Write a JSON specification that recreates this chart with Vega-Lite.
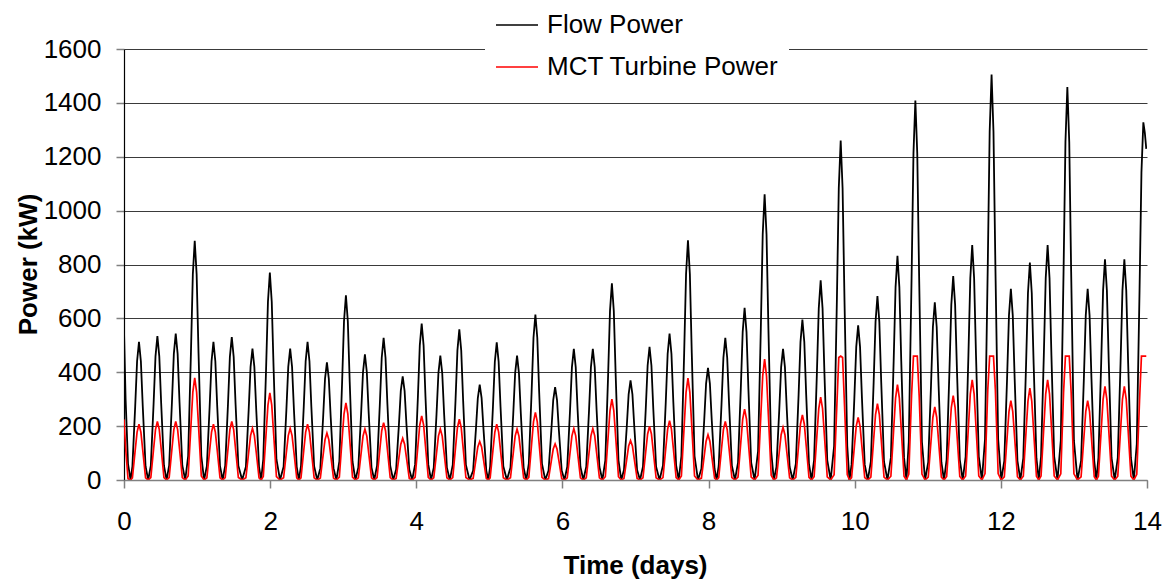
{
  "$schema": "https://vega.github.io/schema/vega-lite/v6.json",
  "width": 1023,
  "height": 431,
  "autosize": {"type": "none"},
  "padding": {"left": 124, "top": 49, "right": 21, "bottom": 103},
  "background": "white",
  "config": {"view": {"stroke": null}, "font": "Liberation Sans"},
  "data": {"values": [
    {"t":0,"f":555,"m":225},{"t":0.022,"f":300,"m":120},{"t":0.055,"f":60,"m":5},{"t":0.09,"f":0,"m":0},
    {"t":0.115,"f":51,"m":8},{"t":0.153,"f":272,"m":110},{"t":0.179,"f":441,"m":178},{"t":0.205,"f":513,"m":207},{"t":0.231,"f":441,"m":178},{"t":0.257,"f":272,"m":110},{"t":0.295,"f":51,"m":8},{"t":0.331,"f":0,"m":0},
    {"t":0.367,"f":53,"m":9},{"t":0.405,"f":283,"m":115},{"t":0.431,"f":459,"m":187},{"t":0.457,"f":534,"m":217},{"t":0.483,"f":459,"m":187},{"t":0.509,"f":283,"m":115},{"t":0.547,"f":53,"m":9},{"t":0.583,"f":0,"m":0},
    {"t":0.618,"f":54,"m":9},{"t":0.656,"f":288,"m":115},{"t":0.682,"f":468,"m":187},{"t":0.708,"f":544,"m":217},{"t":0.734,"f":468,"m":187},{"t":0.76,"f":288,"m":115},{"t":0.798,"f":54,"m":9},{"t":0.838,"f":0,"m":0},
    {"t":0.878,"f":89,"m":15},{"t":0.916,"f":471,"m":201},{"t":0.942,"f":764,"m":326},{"t":0.968,"f":888,"m":379},{"t":0.994,"f":764,"m":326},{"t":1.02,"f":471,"m":201},{"t":1.058,"f":89,"m":15},{"t":1.096,"f":0,"m":0},
    {"t":1.134,"f":51,"m":8},{"t":1.172,"f":272,"m":110},{"t":1.198,"f":441,"m":178},{"t":1.224,"f":513,"m":207},{"t":1.25,"f":441,"m":178},{"t":1.276,"f":272,"m":110},{"t":1.314,"f":51,"m":8},{"t":1.35,"f":0,"m":0},
    {"t":1.385,"f":53,"m":9},{"t":1.423,"f":281,"m":115},{"t":1.449,"f":457,"m":187},{"t":1.475,"f":531,"m":217},{"t":1.501,"f":457,"m":187},{"t":1.527,"f":281,"m":115},{"t":1.565,"f":53,"m":9},{"t":1.617,"f":0,"m":0},
    {"t":1.668,"f":49,"m":8},{"t":1.706,"f":259,"m":102},{"t":1.732,"f":420,"m":165},{"t":1.758,"f":488,"m":192},{"t":1.784,"f":420,"m":165},{"t":1.81,"f":259,"m":102},{"t":1.848,"f":49,"m":8},{"t":1.877,"f":0,"m":0},
    {"t":1.906,"f":77,"m":13},{"t":1.944,"f":408,"m":171},{"t":1.97,"f":662,"m":278},{"t":1.996,"f":770,"m":323},{"t":2.022,"f":662,"m":278},{"t":2.048,"f":408,"m":171},{"t":2.086,"f":77,"m":13},{"t":2.135,"f":0,"m":0},
    {"t":2.184,"f":49,"m":8},{"t":2.222,"f":259,"m":102},{"t":2.248,"f":420,"m":165},{"t":2.274,"f":488,"m":192},{"t":2.3,"f":420,"m":165},{"t":2.326,"f":259,"m":102},{"t":2.364,"f":49,"m":8},{"t":2.393,"f":0,"m":0},
    {"t":2.422,"f":51,"m":8},{"t":2.46,"f":272,"m":110},{"t":2.486,"f":441,"m":178},{"t":2.512,"f":513,"m":207},{"t":2.538,"f":441,"m":178},{"t":2.564,"f":272,"m":110},{"t":2.602,"f":51,"m":8},{"t":2.645,"f":0,"m":0},
    {"t":2.687,"f":44,"m":7},{"t":2.725,"f":232,"m":92},{"t":2.751,"f":376,"m":150},{"t":2.777,"f":437,"m":174},{"t":2.803,"f":376,"m":150},{"t":2.829,"f":232,"m":92},{"t":2.867,"f":44,"m":7},{"t":2.907,"f":0,"m":0},
    {"t":2.947,"f":69,"m":11},{"t":2.985,"f":364,"m":152},{"t":3.011,"f":590,"m":246},{"t":3.037,"f":686,"m":286},{"t":3.063,"f":590,"m":246},{"t":3.089,"f":364,"m":152},{"t":3.127,"f":69,"m":11},{"t":3.167,"f":0,"m":0},
    {"t":3.207,"f":47,"m":8},{"t":3.245,"f":247,"m":100},{"t":3.271,"f":401,"m":163},{"t":3.297,"f":466,"m":189},{"t":3.323,"f":401,"m":163},{"t":3.349,"f":247,"m":100},{"t":3.387,"f":47,"m":8},{"t":3.425,"f":0,"m":0},
    {"t":3.463,"f":53,"m":9},{"t":3.501,"f":280,"m":113},{"t":3.527,"f":454,"m":183},{"t":3.553,"f":528,"m":213},{"t":3.579,"f":454,"m":183},{"t":3.605,"f":280,"m":113},{"t":3.643,"f":53,"m":9},{"t":3.684,"f":0,"m":0},
    {"t":3.724,"f":39,"m":6},{"t":3.762,"f":204,"m":82},{"t":3.788,"f":331,"m":133},{"t":3.814,"f":385,"m":155},{"t":3.84,"f":331,"m":133},{"t":3.866,"f":204,"m":82},{"t":3.904,"f":39,"m":6},{"t":3.944,"f":0,"m":0},
    {"t":3.984,"f":58,"m":10},{"t":4.022,"f":308,"m":126},{"t":4.048,"f":500,"m":205},{"t":4.074,"f":581,"m":238},{"t":4.1,"f":500,"m":205},{"t":4.126,"f":308,"m":126},{"t":4.164,"f":58,"m":10},{"t":4.202,"f":0,"m":0},
    {"t":4.239,"f":46,"m":8},{"t":4.277,"f":245,"m":100},{"t":4.303,"f":397,"m":163},{"t":4.329,"f":462,"m":189},{"t":4.355,"f":397,"m":163},{"t":4.381,"f":245,"m":100},{"t":4.419,"f":46,"m":8},{"t":4.459,"f":0,"m":0},
    {"t":4.499,"f":56,"m":9},{"t":4.537,"f":296,"m":120},{"t":4.563,"f":481,"m":194},{"t":4.589,"f":559,"m":226},{"t":4.615,"f":481,"m":194},{"t":4.641,"f":296,"m":120},{"t":4.679,"f":56,"m":9},{"t":4.729,"f":0,"m":0},
    {"t":4.778,"f":35,"m":6},{"t":4.816,"f":188,"m":76},{"t":4.842,"f":304,"m":123},{"t":4.868,"f":354,"m":143},{"t":4.894,"f":304,"m":123},{"t":4.92,"f":188,"m":76},{"t":4.958,"f":35,"m":6},{"t":4.985,"f":0,"m":0},
    {"t":5.011,"f":51,"m":8},{"t":5.049,"f":271,"m":110},{"t":5.075,"f":439,"m":178},{"t":5.101,"f":511,"m":207},{"t":5.127,"f":439,"m":178},{"t":5.153,"f":271,"m":110},{"t":5.191,"f":51,"m":8},{"t":5.24,"f":0,"m":0},
    {"t":5.289,"f":46,"m":8},{"t":5.327,"f":245,"m":100},{"t":5.353,"f":397,"m":163},{"t":5.379,"f":462,"m":189},{"t":5.405,"f":397,"m":163},{"t":5.431,"f":245,"m":100},{"t":5.469,"f":46,"m":8},{"t":5.505,"f":0,"m":0},
    {"t":5.54,"f":61,"m":10},{"t":5.578,"f":325,"m":133},{"t":5.604,"f":528,"m":216},{"t":5.63,"f":614,"m":251},{"t":5.656,"f":528,"m":216},{"t":5.682,"f":325,"m":133},{"t":5.72,"f":61,"m":10},{"t":5.765,"f":0,"m":0},
    {"t":5.81,"f":35,"m":5},{"t":5.848,"f":183,"m":71},{"t":5.874,"f":297,"m":115},{"t":5.9,"f":345,"m":134},{"t":5.926,"f":297,"m":115},{"t":5.952,"f":183,"m":71},{"t":5.99,"f":35,"m":5},{"t":6.028,"f":0,"m":0},
    {"t":6.066,"f":49,"m":8},{"t":6.104,"f":258,"m":101},{"t":6.13,"f":419,"m":164},{"t":6.156,"f":487,"m":191},{"t":6.182,"f":419,"m":164},{"t":6.208,"f":258,"m":101},{"t":6.246,"f":49,"m":8},{"t":6.286,"f":0,"m":0},
    {"t":6.326,"f":49,"m":8},{"t":6.364,"f":258,"m":101},{"t":6.39,"f":419,"m":164},{"t":6.416,"f":487,"m":191},{"t":6.442,"f":419,"m":164},{"t":6.468,"f":258,"m":101},{"t":6.506,"f":49,"m":8},{"t":6.547,"f":0,"m":0},
    {"t":6.587,"f":73,"m":12},{"t":6.625,"f":387,"m":159},{"t":6.651,"f":628,"m":258},{"t":6.677,"f":730,"m":300},{"t":6.703,"f":628,"m":258},{"t":6.729,"f":387,"m":159},{"t":6.767,"f":73,"m":12},{"t":6.805,"f":0,"m":0},
    {"t":6.842,"f":37,"m":6},{"t":6.88,"f":196,"m":77},{"t":6.906,"f":318,"m":126},{"t":6.932,"f":370,"m":146},{"t":6.958,"f":318,"m":126},{"t":6.984,"f":196,"m":77},{"t":7.022,"f":37,"m":6},{"t":7.062,"f":0,"m":0},
    {"t":7.102,"f":49,"m":8},{"t":7.14,"f":262,"m":105},{"t":7.166,"f":425,"m":171},{"t":7.192,"f":494,"m":199},{"t":7.218,"f":425,"m":171},{"t":7.244,"f":262,"m":105},{"t":7.282,"f":49,"m":8},{"t":7.329,"f":0,"m":0},
    {"t":7.376,"f":54,"m":9},{"t":7.414,"f":288,"m":117},{"t":7.44,"f":468,"m":189},{"t":7.466,"f":544,"m":220},{"t":7.492,"f":468,"m":189},{"t":7.518,"f":288,"m":117},{"t":7.556,"f":54,"m":9},{"t":7.592,"f":0,"m":0},
    {"t":7.628,"f":89,"m":15},{"t":7.666,"f":472,"m":200},{"t":7.692,"f":765,"m":325},{"t":7.718,"f":890,"m":378},{"t":7.744,"f":765,"m":325},{"t":7.77,"f":472,"m":200},{"t":7.808,"f":89,"m":15},{"t":7.855,"f":0,"m":0},
    {"t":7.902,"f":42,"m":7},{"t":7.94,"f":220,"m":89},{"t":7.966,"f":358,"m":144},{"t":7.992,"f":416,"m":168},{"t":8.018,"f":358,"m":144},{"t":8.044,"f":220,"m":89},{"t":8.082,"f":42,"m":7},{"t":8.11,"f":0,"m":0},
    {"t":8.139,"f":53,"m":9},{"t":8.177,"f":280,"m":115},{"t":8.203,"f":454,"m":187},{"t":8.229,"f":528,"m":217},{"t":8.255,"f":454,"m":187},{"t":8.281,"f":280,"m":115},{"t":8.319,"f":53,"m":9},{"t":8.361,"f":0,"m":0},
    {"t":8.403,"f":64,"m":11},{"t":8.441,"f":339,"m":139},{"t":8.467,"f":550,"m":226},{"t":8.493,"f":639,"m":263},{"t":8.519,"f":550,"m":226},{"t":8.545,"f":339,"m":139},{"t":8.583,"f":64,"m":11},{"t":8.63,"f":0,"m":0},
    {"t":8.677,"f":106,"m":18},{"t":8.715,"f":562,"m":238},{"t":8.741,"f":912,"m":386},{"t":8.767,"f":1061,"m":449},{"t":8.793,"f":912,"m":386},{"t":8.819,"f":562,"m":238},{"t":8.857,"f":106,"m":18},{"t":8.893,"f":0,"m":0},
    {"t":8.929,"f":49,"m":8},{"t":8.967,"f":258,"m":103},{"t":8.993,"f":419,"m":168},{"t":9.019,"f":487,"m":195},{"t":9.045,"f":419,"m":168},{"t":9.071,"f":258,"m":103},{"t":9.109,"f":49,"m":8},{"t":9.152,"f":0,"m":0},
    {"t":9.194,"f":60,"m":10},{"t":9.232,"f":316,"m":128},{"t":9.258,"f":513,"m":208},{"t":9.284,"f":596,"m":242},{"t":9.31,"f":513,"m":208},{"t":9.336,"f":316,"m":128},{"t":9.374,"f":60,"m":10},{"t":9.409,"f":0,"m":0},
    {"t":9.444,"f":74,"m":12},{"t":9.482,"f":393,"m":163},{"t":9.508,"f":637,"m":265},{"t":9.534,"f":741,"m":308},{"t":9.56,"f":637,"m":265},{"t":9.586,"f":393,"m":163},{"t":9.624,"f":74,"m":12},{"t":9.671,"f":0,"m":0},
    {"t":9.718,"f":126,"m":20},{"t":9.756,"f":668,"m":280},{"t":9.782,"f":1084,"m":455},{"t":9.808,"f":1260,"m":460},{"t":9.834,"f":1084,"m":455},{"t":9.86,"f":668,"m":280},{"t":9.898,"f":126,"m":20},{"t":9.928,"f":0,"m":0},
    {"t":9.957,"f":57,"m":9},{"t":9.995,"f":304,"m":123},{"t":10.021,"f":494,"m":200},{"t":10.047,"f":574,"m":232},{"t":10.073,"f":494,"m":200},{"t":10.099,"f":304,"m":123},{"t":10.137,"f":57,"m":9},{"t":10.179,"f":0,"m":0},
    {"t":10.221,"f":68,"m":11},{"t":10.259,"f":362,"m":150},{"t":10.285,"f":587,"m":243},{"t":10.311,"f":683,"m":283},{"t":10.337,"f":587,"m":243},{"t":10.363,"f":362,"m":150},{"t":10.401,"f":68,"m":11},{"t":10.448,"f":0,"m":0},
    {"t":10.495,"f":83,"m":14},{"t":10.533,"f":441,"m":188},{"t":10.559,"f":716,"m":304},{"t":10.585,"f":832,"m":354},{"t":10.611,"f":716,"m":304},{"t":10.637,"f":441,"m":188},{"t":10.675,"f":83,"m":14},{"t":10.708,"f":0,"m":0},
    {"t":10.74,"f":141,"m":22},{"t":10.778,"f":747,"m":314},{"t":10.804,"f":1212,"m":460},{"t":10.83,"f":1409,"m":460},{"t":10.856,"f":1212,"m":460},{"t":10.882,"f":747,"m":314},{"t":10.92,"f":141,"m":22},{"t":10.963,"f":0,"m":0},
    {"t":11.006,"f":66,"m":11},{"t":11.044,"f":350,"m":144},{"t":11.07,"f":568,"m":233},{"t":11.096,"f":660,"m":271},{"t":11.122,"f":568,"m":233},{"t":11.148,"f":350,"m":144},{"t":11.186,"f":66,"m":11},{"t":11.222,"f":0,"m":0},
    {"t":11.258,"f":76,"m":13},{"t":11.296,"f":401,"m":166},{"t":11.322,"f":651,"m":269},{"t":11.348,"f":757,"m":313},{"t":11.374,"f":651,"m":269},{"t":11.4,"f":401,"m":166},{"t":11.438,"f":76,"m":13},{"t":11.478,"f":0,"m":0},
    {"t":11.518,"f":87,"m":15},{"t":11.556,"f":462,"m":197},{"t":11.582,"f":750,"m":320},{"t":11.608,"f":872,"m":372},{"t":11.634,"f":750,"m":320},{"t":11.66,"f":462,"m":197},{"t":11.698,"f":87,"m":15},{"t":11.741,"f":0,"m":0},
    {"t":11.783,"f":151,"m":24},{"t":11.821,"f":798,"m":335},{"t":11.847,"f":1294,"m":460},{"t":11.873,"f":1505,"m":460},{"t":11.899,"f":1294,"m":460},{"t":11.925,"f":798,"m":335},{"t":11.963,"f":151,"m":24},{"t":12.005,"f":0,"m":0},
    {"t":12.047,"f":71,"m":12},{"t":12.085,"f":376,"m":156},{"t":12.111,"f":611,"m":254},{"t":12.137,"f":710,"m":295},{"t":12.163,"f":611,"m":254},{"t":12.189,"f":376,"m":156},{"t":12.227,"f":71,"m":12},{"t":12.267,"f":0,"m":0},
    {"t":12.307,"f":81,"m":14},{"t":12.345,"f":428,"m":181},{"t":12.371,"f":694,"m":293},{"t":12.397,"f":807,"m":341},{"t":12.423,"f":694,"m":293},{"t":12.449,"f":428,"m":181},{"t":12.487,"f":81,"m":14},{"t":12.519,"f":0,"m":0},
    {"t":12.55,"f":87,"m":15},{"t":12.588,"f":462,"m":197},{"t":12.614,"f":750,"m":320},{"t":12.64,"f":872,"m":372},{"t":12.666,"f":750,"m":320},{"t":12.692,"f":462,"m":197},{"t":12.73,"f":87,"m":15},{"t":12.775,"f":0,"m":0},
    {"t":12.82,"f":146,"m":23},{"t":12.858,"f":773,"m":325},{"t":12.884,"f":1255,"m":460},{"t":12.91,"f":1459,"m":460},{"t":12.936,"f":1255,"m":460},{"t":12.962,"f":773,"m":325},{"t":13.0,"f":146,"m":23},{"t":13.049,"f":0,"m":0},
    {"t":13.098,"f":71,"m":12},{"t":13.136,"f":376,"m":156},{"t":13.162,"f":611,"m":254},{"t":13.188,"f":710,"m":295},{"t":13.214,"f":611,"m":254},{"t":13.24,"f":376,"m":156},{"t":13.278,"f":71,"m":12},{"t":13.307,"f":0,"m":0},
    {"t":13.335,"f":82,"m":14},{"t":13.373,"f":434,"m":184},{"t":13.399,"f":704,"m":299},{"t":13.425,"f":819,"m":348},{"t":13.451,"f":704,"m":299},{"t":13.477,"f":434,"m":184},{"t":13.515,"f":82,"m":14},{"t":13.558,"f":0,"m":0},
    {"t":13.6,"f":82,"m":14},{"t":13.638,"f":434,"m":184},{"t":13.664,"f":704,"m":299},{"t":13.69,"f":819,"m":348},{"t":13.716,"f":704,"m":299},{"t":13.742,"f":434,"m":184},{"t":13.78,"f":82,"m":14},{"t":13.82,"f":0,"m":0},
    {"t":13.86,"f":133,"m":21},{"t":13.898,"f":704,"m":296},{"t":13.924,"f":1142,"m":460},{"t":13.95,"f":1328,"m":460},{"t":13.97,"f":1290,"m":460},{"t":13.99,"f":1229,"m":460}
  ]},
  "transform": [{"fold": ["f", "m"], "as": ["key", "value"]}],
  "encoding": {
    "x": {
      "field": "t", "type": "quantitative",
      "scale": {"domain": [0, 14], "nice": false, "zero": false},
      "axis": {
        "values": [0, 2, 4, 6, 8, 10, 12, 14],
        "grid": false, "zindex": 1,
        "domainColor": "#808080", "domainWidth": 1.5,
        "tickColor": "#808080", "tickSize": 8, "tickWidth": 1.5,
        "labelFont": "Liberation Sans", "labelFontSize": 26, "labelColor": "#000",
        "labelBaseline": "alphabetic", "labelPadding": 41, "labelFlush": false,
        "title": "Time (days)", "titleFont": "Liberation Sans", "titleFontSize": 26, "titleFontWeight": "bold", "titleColor": "#000",
        "titleBaseline": "alphabetic", "titleX": 511, "titleY": 93, "titleAnchor": "middle", "titleAlign": "center"
      }
    },
    "y": {
      "field": "value", "type": "quantitative",
      "scale": {"domain": [0, 1600], "nice": false},
      "axis": {
        "values": [0, 200, 400, 600, 800, 1000, 1200, 1400, 1600],
        "format": "d",
        "grid": true, "gridColor": "#3a3a3a", "gridWidth": 1,
        "domainColor": "#000", "domainWidth": 1.2,
        "tickColor": "#808080", "tickSize": 8, "tickWidth": 1.5,
        "labelFont": "Liberation Sans", "labelFontSize": 26, "labelColor": "#000",
        "labelPadding": 15,
        "title": "Power (kW)", "titleFont": "Liberation Sans", "titleFontSize": 26, "titleFontWeight": "bold", "titleColor": "#000",
        "titleAngle": 270, "titleBaseline": "alphabetic", "titleAlign": "center", "titleX": -88, "titleY": 215
      }
    },
    "color": {
      "field": "key", "type": "nominal",
      "scale": {"domain": ["f", "m"], "range": ["#000000", "#ff0000"]},
      "legend": {
        "orient": "none", "legendX": 361, "legendY": -56,
        "title": null, "fillColor": "white", "padding": 10,
        "symbolType": "stroke", "symbolSize": 1764, "symbolStrokeWidth": 1.5,
        "labelFont": "Liberation Sans", "labelFontSize": 26, "labelColor": "#000", "labelLimit": 500,
        "labelOffset": 8, "rowPadding": 7,
        "labelExpr": "datum.label == 'f' ? 'Flow Power' : 'MCT Turbine Power'"
      }
    }
  },
  "layer": [
    {"transform": [{"filter": "datum.key == 'f'"}], "mark": {"type": "line", "strokeWidth": 1.8, "clip": true}},
    {"transform": [{"filter": "datum.key == 'm'"}], "mark": {"type": "line", "strokeWidth": 1.7, "clip": true}}
  ]
}
